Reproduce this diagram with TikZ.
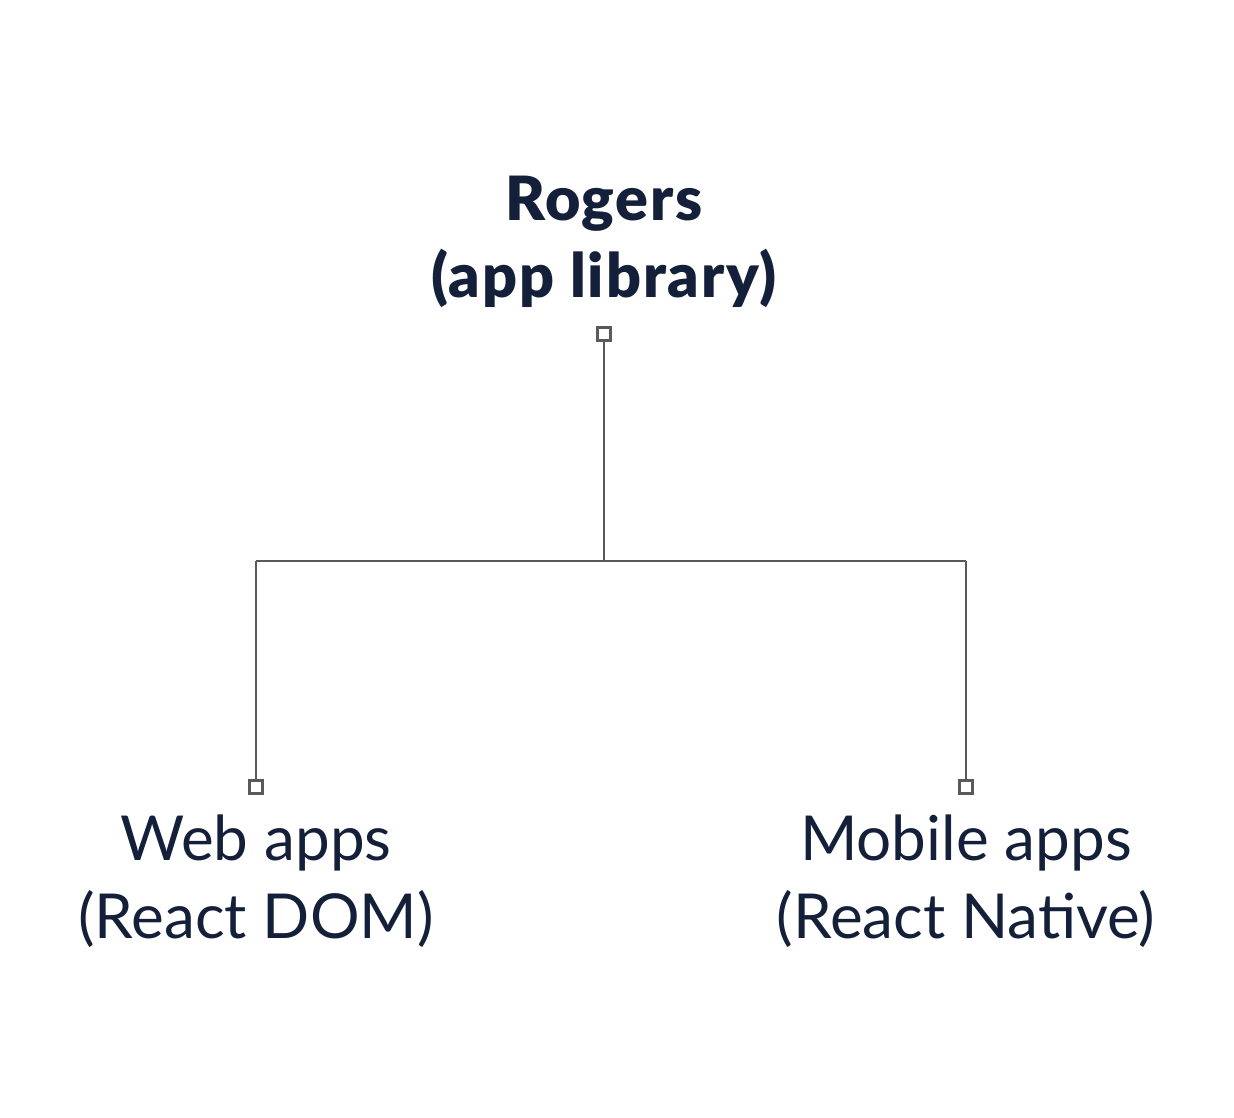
\documentclass[tikz,border=0pt]{standalone}
\usepackage{fontspec}
\setmainfont{Lato}
\newfontfamily\titlefont[LetterSpace=3]{Lato Black}
\definecolor{ink}{HTML}{14203A}
\definecolor{wire}{HTML}{5A5A5A}
\tikzset{
  wireline/.style={draw=wire, line width=2.8pt},
  pin/.style={draw=wire, line width=2.8pt, fill=white, minimum size=13pt, inner sep=0pt, rectangle},
  title/.style={text=ink, align=center, font=\fontsize{61}{77}\selectfont\titlefont, anchor=base},
  leaf/.style={text=ink, align=center, font=\fontsize{62}{78}\selectfont, anchor=base},
}
\begin{document}
\begin{tikzpicture}[x=1pt,y=-1pt]
\useasboundingbox[fill=white] (0,0) rectangle (1234,1118);
\node[title] (root) at (604,297) {Rogers\\(app library)};
\node[leaf] (web) at (256,938) {Web apps\\(React DOM)};
\node[leaf] (mob) at (966,938) {Mobile apps\\(React Native)};
\node[pin] (p0) at (604,334) {};
\node[pin] (p1) at (256,787) {};
\node[pin] (p2) at (966,787) {};
\coordinate (j) at (604,561);
\coordinate (jl) at (256,561);
\coordinate (jr) at (966,561);
\draw[wireline] (p0.south) -- (j);
\draw[wireline] (jl) -- (jr);
\draw[wireline] (jl) -- (p1.north);
\draw[wireline] (jr) -- (p2.north);
\end{tikzpicture}
\end{document}
